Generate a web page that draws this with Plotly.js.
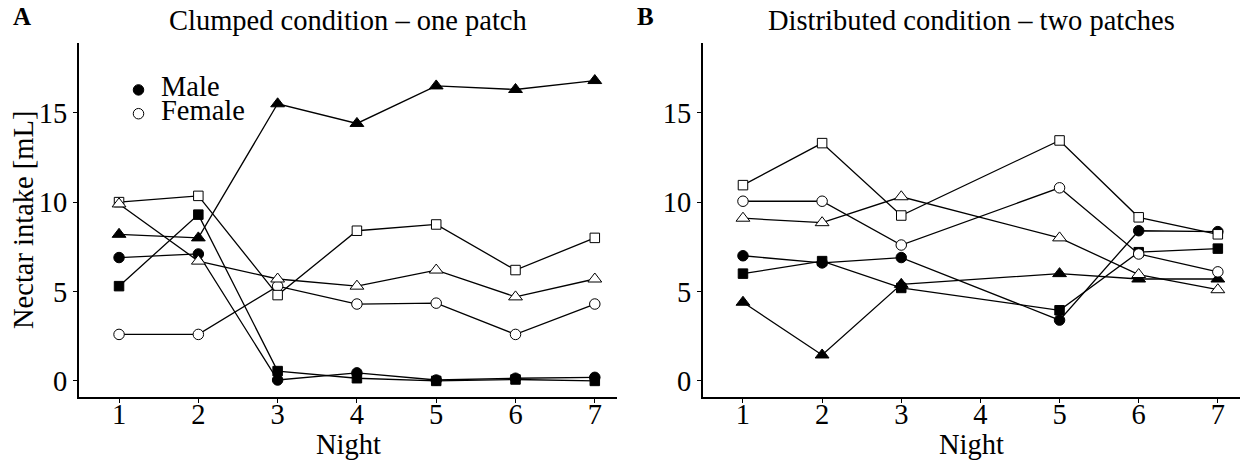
<!DOCTYPE html>
<html>
<head>
<meta charset="utf-8">
<script src="https://cdn.plot.ly/plotly-3.0.1.min.js"></script>
<style>html,body{margin:0;padding:0;background:#fff}#chart{width:1241px;height:461px}</style>
</head>
<body>
<div id="chart"></div>
<script>
// ---- Data ----
const nightsA = [1, 2, 3, 4, 5, 6, 7];
const nightsB = [1, 2, 3, 5, 6, 7];

// Panel A – clumped condition (one patch)
const A_maleCircle   = [6.9, 7.1, 0.05, 0.45, 0.05, 0.15, 0.2];
const A_maleSquare   = [5.3, 9.3, 0.55, 0.15, 0.0, 0.08, 0.0];
const A_maleTriangle = [8.2, 8.0, 15.5, 14.4, 16.5, 16.3, 16.8];
const A_femCircle    = [2.6, 2.6, 5.3, 4.3, 4.35, 2.6, 4.3];
const A_femSquare    = [10.0, 10.35, 4.8, 8.4, 8.75, 6.2, 8.0];
const A_femTriangle  = [9.9, 6.7, 5.7, 5.3, 6.2, 4.7, 5.7];

// Panel B – distributed condition (two patches)
const B_maleCircle   = [7.0, 6.6, 6.9, 3.4, 8.4, 8.35];
const B_maleSquare   = [6.0, 6.7, 5.2, 3.95, 7.2, 7.4];
const B_maleTriangle = [4.4, 1.45, 5.4, 6.0, 5.7, 5.7];
const B_femCircle    = [10.05, 10.05, 7.6, 10.8, 7.1, 6.1];
const B_femSquare    = [10.95, 13.3, 9.25, 13.45, 9.15, 8.2];
const B_femTriangle  = [9.1, 8.85, 10.3, 8.0, 5.95, 5.1];

const yTicks = [0, 5, 10, 15];
const xTicks = [1, 2, 3, 4, 5, 6, 7];
const titleA = "Clumped condition \u2013 one patch";
const titleB = "Distributed condition \u2013 two patches";
const yTitle = "Nectar intake [mL]";
const xTitle = "Night";
const legendNames = {male: "Male", female: "Female"};

// ---- Styling ----
const FONT = "Liberation Serif, Times New Roman, serif";
const FS = 28.5;
const symSize = {circle: 10.5, square: 9.5, 'triangle-up': 12};

const seriesA = [
  {y: A_maleCircle, sym: 'circle', male: true},
  {y: A_maleSquare, sym: 'square', male: true},
  {y: A_maleTriangle, sym: 'triangle-up', male: true},
  {y: A_femCircle, sym: 'circle', male: false},
  {y: A_femSquare, sym: 'square', male: false},
  {y: A_femTriangle, sym: 'triangle-up', male: false}
];
const seriesB = [
  {y: B_maleCircle, sym: 'circle', male: true},
  {y: B_maleSquare, sym: 'square', male: true},
  {y: B_maleTriangle, sym: 'triangle-up', male: true},
  {y: B_femCircle, sym: 'circle', male: false},
  {y: B_femSquare, sym: 'square', male: false},
  {y: B_femTriangle, sym: 'triangle-up', male: false}
];

const traces = [];
function addLines(series, x, xa, ya) {
  series.forEach(s => traces.push({
    type: 'scatter', mode: 'lines', x: x, y: s.y, xaxis: xa, yaxis: ya,
    line: {color: '#000', width: 1.3}, showlegend: false, hoverinfo: 'skip'
  }));
}
function addMarkers(series, x, xa, ya, legend) {
  series.forEach(s => {
    const t = {
      type: 'scatter', mode: 'markers', x: x, y: s.y, xaxis: xa, yaxis: ya,
      marker: {symbol: s.sym, size: symSize[s.sym], color: s.male ? '#000' : '#fff',
               line: {color: '#000', width: 1}},
      showlegend: false
    };
    if (legend && s.sym === 'circle') {
      t.showlegend = true;
      t.name = '<span style="font-size:' + FS + 'px">' +
               (s.male ? legendNames.male : legendNames.female) + '</span>';
    }
    traces.push(t);
  });
}
addLines(seriesA, nightsA, 'x', 'y');
addLines(seriesB, nightsB, 'x2', 'y2');
addMarkers(seriesA, nightsA, 'x', 'y', true);
addMarkers(seriesB, nightsB, 'x2', 'y2', false);

const W = 1241, H = 461;
const PT = 43, PB = 397, PH = PB - PT;
const py = px => (PB - px) / PH;   // pixel row -> paper y

const axisCommon = {
  showline: true, linecolor: '#000', linewidth: 2, mirror: false,
  showgrid: false, zeroline: false, ticks: 'outside', ticklen: 4, tickwidth: 1,
  tickcolor: '#000', tickfont: {family: FONT, size: FS, color: '#000'}, automargin: false
};
const xaxisBase = Object.assign({}, axisCommon, {
  range: [0.495, 7.28], tickvals: xTicks, ticktext: xTicks.map(String),
  ticklabelstandoff: -13
});
const yaxisBase = Object.assign({}, axisCommon, {
  range: [-0.9, 18.9], tickvals: yTicks, ticktext: yTicks.map(String)
});

const tf = {family: FONT, size: FS, color: '#000'};
const layout = {
  width: W, height: H,
  margin: {l: 0, r: 0, t: PT, b: H - PB},
  paper_bgcolor: '#fff', plot_bgcolor: '#fff',
  font: tf,
  xaxis: Object.assign({}, xaxisBase, {domain: [79 / W, 617 / W], anchor: 'y'}),
  yaxis: Object.assign({}, yaxisBase, {domain: [0, 1], anchor: 'x'}),
  xaxis2: Object.assign({}, xaxisBase, {domain: [703 / W, 1240 / W], anchor: 'y2'}),
  yaxis2: Object.assign({}, yaxisBase, {domain: [0, 1], anchor: 'x2'}),
  showlegend: true,
  legend: {x: 116 / W, xanchor: 'left', y: py(73), yanchor: 'top', itemwidth: 35,
           bgcolor: 'rgba(0,0,0,0)', borderwidth: 0,
           font: {family: FONT, size: 16, color: '#000'}},
  annotations: [
    {text: titleA, xref: 'paper', yref: 'paper', x: (79 + 617) / 2 / W, y: py(20),
     xanchor: 'center', yanchor: 'middle', showarrow: false, font: tf},
    {text: titleB, xref: 'paper', yref: 'paper', x: (703 + 1240) / 2 / W, y: py(20),
     xanchor: 'center', yanchor: 'middle', showarrow: false, font: tf},
    {text: xTitle, xref: 'paper', yref: 'paper', x: (79 + 617) / 2 / W, y: py(444),
     xanchor: 'center', yanchor: 'middle', showarrow: false, font: tf},
    {text: xTitle, xref: 'paper', yref: 'paper', x: (703 + 1240) / 2 / W, y: py(444),
     xanchor: 'center', yanchor: 'middle', showarrow: false, font: tf},
    {text: yTitle, xref: 'paper', yref: 'paper', x: 23 / W, y: 0.5, textangle: -90,
     xanchor: 'center', yanchor: 'middle', showarrow: false, font: tf},
    {text: '<b>A</b>', xref: 'paper', yref: 'paper', x: 22 / W, y: py(17),
     xanchor: 'center', yanchor: 'middle', showarrow: false, font: {family: FONT, size: 25, color: '#000'}},
    {text: '<b>B</b>', xref: 'paper', yref: 'paper', x: 645 / W, y: py(17),
     xanchor: 'center', yanchor: 'middle', showarrow: false, font: {family: FONT, size: 25, color: '#000'}}
  ]
};

Plotly.newPlot('chart', traces, layout, {displayModeBar: false, staticPlot: true});
</script>
</body>
</html>
